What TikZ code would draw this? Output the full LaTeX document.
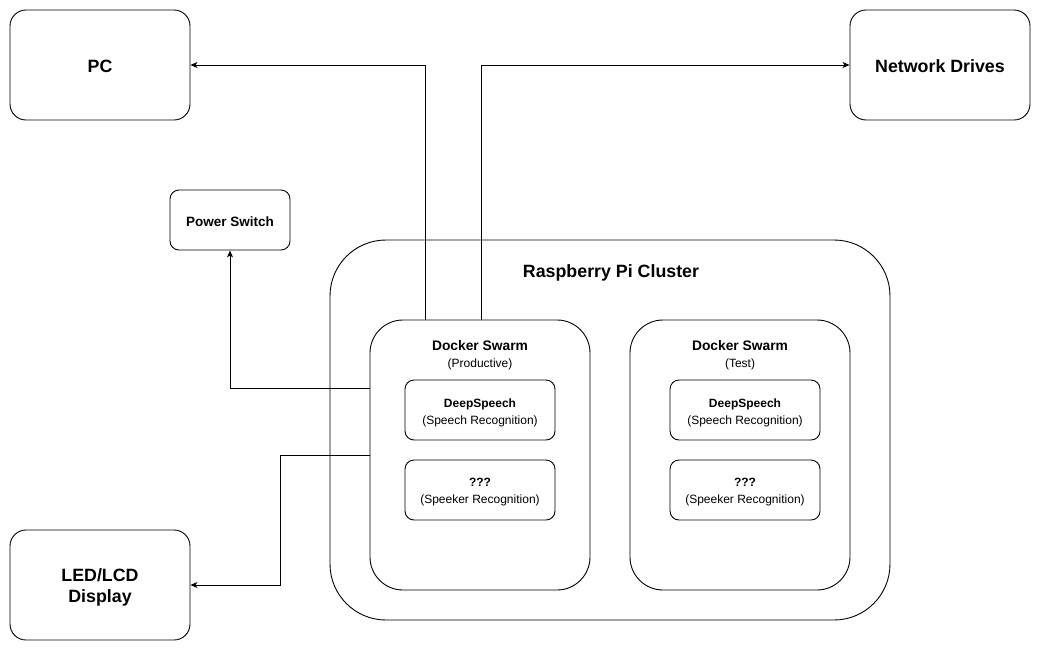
\documentclass[tikz,border=0pt]{standalone}
\usepackage{fontspec}
\setmainfont{Liberation Sans}
\usetikzlibrary{arrows.meta}
\begin{document}
\begin{tikzpicture}[x=1pt,y=-1pt,
  box/.style={draw=black,line width=0.9pt,rectangle,inner sep=0pt,align=center},
  txt/.style={align=center,inner sep=0pt},
  arr/.style={draw=black,line width=0.9pt,-{Stealth[length=7pt,width=6pt,inset=2pt]}},
  ln/.style={draw=black,line width=0.9pt},
  big/.style={font=\fontsize{17.8}{21}\selectfont\bfseries},
  mid/.style={font=\fontsize{12}{17}\selectfont}]
\useasboundingbox[fill=white] (0,0) rectangle (1041,651);
% outer boxes
\node[box,minimum width=180pt,minimum height=110pt,rounded corners=16pt] (pc) at (100,65) {};
\node[txt,big] (pct) at ([yshift=-1.5pt]pc.center) {PC};
\node[box,minimum width=180pt,minimum height=110pt,rounded corners=16pt] (nd) at (940,65) {};
\node[txt,big] (ndt) at ([yshift=-1.5pt]nd.center) {Network Drives};
\node[box,minimum width=120pt,minimum height=60pt,rounded corners=9pt] (ps) at (230,220) {};
\node[txt,font=\fontsize{13.5}{15}\selectfont\bfseries] (pst) at ([yshift=-1.5pt]ps.center) {Power Switch};
\node[box,minimum width=180pt,minimum height=110pt,rounded corners=16pt] (led) at (100,585) {};
\node[txt,big] (ledt) at ([yshift=-2.5pt]led.center) {LED/LCD\\Display};
% cluster
\node[box,minimum width=560pt,minimum height=380pt,rounded corners=56pt] (cl) at (610,430) {};
\node[txt,big] (cltitle) at (611,273) {Raspberry Pi Cluster};
% swarms
\node[box,minimum width=220pt,minimum height=270pt,rounded corners=33pt] (prod) at (480,455) {};
\node[txt,mid] (prodt) at (480,355) {{\fontsize{13.8}{17}\selectfont\bfseries Docker Swarm}\\(Productive)};
\node[box,minimum width=150pt,minimum height=60pt,rounded corners=9pt] (ds1) at (480,410) {};
\node[txt,mid] (ds1t) at ([yshift=-2.5pt]ds1.center) {{\bfseries DeepSpeech}\\(Speech Recognition)};
\node[box,minimum width=150pt,minimum height=60pt,rounded corners=9pt] (sr1) at (480,490) {};
\node[txt,mid] (sr1t) at ([yshift=-2.5pt]sr1.center) {{\bfseries ???}\\(Speeker Recognition)};
\node[box,minimum width=220pt,minimum height=270pt,rounded corners=33pt] (test) at (740,455) {};
\node[txt,mid] (testt) at (740,355) {{\fontsize{13.8}{17}\selectfont\bfseries Docker Swarm}\\(Test)};
\node[box,minimum width=150pt,minimum height=60pt,rounded corners=9pt] (ds2) at (745,410) {};
\node[txt,mid] (ds2t) at ([yshift=-2.5pt]ds2.center) {{\bfseries DeepSpeech}\\(Speech Recognition)};
\node[box,minimum width=150pt,minimum height=60pt,rounded corners=9pt] (sr2) at (745,490) {};
\node[txt,mid] (sr2t) at ([yshift=-2.5pt]sr2.center) {{\bfseries ???}\\(Speeker Recognition)};
% connectors
\coordinate (pcx) at (425,0);
\coordinate (ndx) at (481,0);
\coordinate (psy) at (0,388);
\coordinate (ledx) at (280,455);
\draw[arr] (prod.north -| pcx) |- (pc.east);
\draw[arr] (prod.north -| ndx) |- (nd.west);
\draw[arr] (prod.west |- psy) -| (ps.south);
\draw[ln] (prod.west) -- (ledx);
\draw[arr] (ledx) |- (led.east);
\end{tikzpicture}
\end{document}
